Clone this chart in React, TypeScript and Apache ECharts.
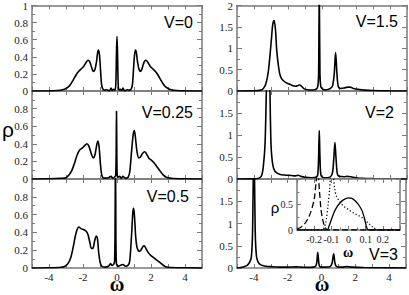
import React, { useEffect, useRef } from 'react';
import * as echarts from 'echarts';

// ---- data (omega, rho) ----
const v0: number[][] = [[-5,0],[-4,0.002],[-3.5,0.006],[-3.2,0.015],[-3.0,0.03],[-2.8,0.06],[-2.6,0.12],[-2.4,0.19],[-2.25,0.23],[-2.1,0.26],[-1.95,0.29],[-1.8,0.34],[-1.7,0.36],[-1.6,0.34],[-1.5,0.28],[-1.4,0.23],[-1.3,0.25],[-1.2,0.35],[-1.14,0.45],[-1.09,0.48],[-1.03,0.42],[-0.97,0.25],[-0.91,0.08],[-0.85,0.03],[-0.75,0.01],[-0.6,0.015],[-0.45,0.0],[-0.35,0.035],[-0.28,0.005],[-0.2,0.02],[-0.12,0.01],[-0.07,0.08],[-0.03,0.45],[0,0.64],[0.03,0.45],[0.07,0.08],[0.12,0.01],[0.2,0.02],[0.28,0.005],[0.35,0.035],[0.45,0],[0.6,0.015],[0.75,0.01],[0.85,0.03],[0.91,0.08],[0.97,0.25],[1.03,0.42],[1.09,0.48],[1.14,0.45],[1.2,0.35],[1.3,0.25],[1.4,0.23],[1.5,0.28],[1.6,0.34],[1.7,0.36],[1.8,0.34],[1.95,0.29],[2.1,0.26],[2.25,0.23],[2.4,0.19],[2.6,0.12],[2.8,0.06],[3.0,0.03],[3.2,0.015],[3.5,0.006],[4,0.002],[5,0]];

const v025: number[][] = [[-5,0],[-4,0.002],[-3.3,0.008],[-3.0,0.015],[-2.8,0.05],[-2.65,0.1],[-2.5,0.18],[-2.35,0.27],[-2.2,0.33],[-2.05,0.35],[-1.9,0.38],[-1.77,0.40],[-1.65,0.37],[-1.5,0.28],[-1.4,0.24],[-1.3,0.27],[-1.2,0.38],[-1.12,0.43],[-1.05,0.36],[-0.98,0.18],[-0.92,0.07],[-0.85,0.02],[-0.7,0.01],[-0.5,0.015],[-0.35,0.03],[-0.25,0.01],[-0.15,0.02],[-0.08,0.04],[-0.05,0.3],[-0.03,0.77],[-0.01,0.3],[0.01,0.05],[0.05,0.02],[0.15,0.03],[0.25,0.01],[0.35,0.03],[0.5,0.01],[0.65,0.02],[0.75,0.08],[0.85,0.3],[0.95,0.5],[1.02,0.55],[1.08,0.48],[1.17,0.32],[1.28,0.24],[1.38,0.25],[1.5,0.29],[1.63,0.31],[1.75,0.28],[1.9,0.23],[2.05,0.21],[2.2,0.18],[2.35,0.14],[2.5,0.1],[2.7,0.05],[2.9,0.02],[3.2,0.008],[4,0.002],[5,0]];

const v05: number[][] = [[-5,0],[-4,0.002],[-3.3,0.008],[-3.05,0.02],[-2.85,0.06],[-2.7,0.13],[-2.55,0.26],[-2.45,0.36],[-2.35,0.43],[-2.25,0.46],[-2.1,0.44],[-1.95,0.43],[-1.8,0.41],[-1.7,0.37],[-1.6,0.29],[-1.5,0.22],[-1.42,0.22],[-1.32,0.30],[-1.22,0.36],[-1.15,0.33],[-1.08,0.18],[-1.0,0.07],[-0.9,0.02],[-0.7,0.01],[-0.5,0.02],[-0.38,0.05],[-0.3,0.03],[-0.2,0.04],[-0.14,0.08],[-0.11,0.6],[-0.09,1.3],[-0.07,0.6],[-0.04,0.06],[0.05,0.02],[0.2,0.03],[0.35,0.04],[0.5,0.02],[0.65,0.03],[0.75,0.08],[0.85,0.35],[0.93,0.62],[0.98,0.67],[1.03,0.58],[1.1,0.35],[1.18,0.23],[1.3,0.19],[1.4,0.2],[1.52,0.24],[1.6,0.25],[1.7,0.22],[1.85,0.17],[2.0,0.14],[2.2,0.11],[2.4,0.08],[2.6,0.05],[2.8,0.02],[3.0,0.008],[4,0.002],[5,0]];

const v15: number[][] = [[-5,0],[-4,0.003],[-3.6,0.02],[-3.45,0.06],[-3.3,0.17],[-3.15,0.48],[-3.0,1.1],[-2.9,1.55],[-2.82,1.65],[-2.74,1.45],[-2.66,0.94],[-2.55,0.55],[-2.45,0.35],[-2.3,0.25],[-2.1,0.19],[-1.9,0.16],[-1.7,0.12],[-1.55,0.11],[-1.4,0.13],[-1.3,0.14],[-1.2,0.11],[-1.05,0.05],[-0.85,0.03],[-0.55,0.025],[-0.35,0.04],[-0.25,0.1],[-0.2,0.4],[-0.16,2.4],[-0.12,0.4],[-0.07,0.1],[0,0.06],[0.1,0.03],[0.3,0.03],[0.5,0.06],[0.62,0.12],[0.72,0.4],[0.8,0.9],[0.88,0.4],[0.96,0.1],[1.1,0.06],[1.3,0.07],[1.5,0.09],[1.65,0.09],[1.85,0.06],[2.1,0.04],[2.5,0.02],[3,0.01],[4,0.003],[5,0]];

const v2: number[][] = [[-5,0],[-4,0.003],[-3.7,0.02],[-3.55,0.08],[-3.45,0.29],[-3.35,0.8],[-3.25,2.3],[-3.16,3.0],[-3.08,2.3],[-3.0,0.8],[-2.9,0.33],[-2.76,0.17],[-2.5,0.11],[-2.2,0.09],[-1.8,0.08],[-1.55,0.07],[-1.4,0.085],[-1.25,0.06],[-1.0,0.04],[-0.6,0.03],[-0.35,0.04],[-0.25,0.1],[-0.2,0.5],[-0.16,1.1],[-0.12,0.5],[-0.06,0.08],[0.1,0.03],[0.3,0.03],[0.5,0.05],[0.62,0.15],[0.7,0.5],[0.76,0.83],[0.82,0.5],[0.9,0.12],[1.0,0.06],[1.3,0.05],[1.5,0.06],[1.7,0.05],[2.0,0.03],[2.4,0.015],[3,0.008],[4,0.002],[5,0]];

const v3: number[][] = [[-5,0],[-4.8,0.01],[-4.6,0.03],[-4.4,0.06],[-4.25,0.13],[-4.15,0.25],[-4.08,0.8],[-4.0,3.0],[-3.92,0.8],[-3.85,0.27],[-3.75,0.13],[-3.6,0.07],[-3.3,0.04],[-3.0,0.03],[-2.5,0.02],[-2.0,0.02],[-1.5,0.025],[-1.2,0.02],[-0.8,0.015],[-0.5,0.02],[-0.35,0.04],[-0.28,0.12],[-0.22,0.35],[-0.16,0.12],[-0.1,0.03],[0.2,0.02],[0.5,0.03],[0.62,0.1],[0.72,0.32],[0.8,0.1],[0.9,0.03],[1.2,0.02],[1.5,0.03],[1.8,0.02],[2.5,0.01],[3.5,0.005],[5,0]];

const insetDashed: number[][] = [[-0.3,0.02],[-0.28,0.05],[-0.26,0.1],[-0.24,0.2],[-0.22,0.35],[-0.2,0.6],[-0.19,0.9],[-0.18,1.2],[-0.17,0.8],[-0.16,0.4],[-0.15,0.2],[-0.14,0.08],[-0.13,0.02],[-0.12,0],[0.3,0]];
const insetDotted: number[][] = [[-0.3,0],[-0.15,0],[-0.14,0.05],[-0.13,0.2],[-0.12,0.45],[-0.11,0.8],[-0.1,1.2],[-0.09,1.1],[-0.08,0.8],[-0.07,0.66],[-0.05,0.55],[-0.03,0.47],[0,0.4],[0.03,0.33],[0.06,0.28],[0.08,0.24],[0.1,0.18],[0.12,0.12],[0.14,0.06],[0.15,0.03],[0.17,0.01],[0.3,0]];
const insetSolid: number[][] = [[-0.3,0],[-0.125,0],[-0.115,0.06],[-0.1,0.2],[-0.085,0.34],[-0.07,0.44],[-0.05,0.53],[-0.03,0.59],[0,0.63],[0.02,0.62],[0.04,0.57],[0.06,0.49],[0.08,0.37],[0.095,0.2],[0.105,0.06],[0.115,0],[0.3,0]];

const panelLabels = ['V=0', 'V=0.25', 'V=0.5', 'V=1.5', 'V=2', 'V=3'];
const panelData = [v0, v025, v05, v15, v2, v3];
const panelYMax = [1, 1, 1, 2, 2, 2];
const panelYStep = [0.2, 0.2, 0.2, 0.5, 0.5, 0.5];

const AX = '#7a7a7a';
const SERIF = 'Liberation Serif';
const SANS = 'Liberation Sans';

export default function App() {
  const ref = useRef<HTMLDivElement>(null);
  useEffect(() => {
    if (!ref.current) return;
    const chart = echarts.init(ref.current, undefined, { renderer: 'svg' });

    const grids: any[] = [
      { left: 32, top: 4, width: 170, height: 87 },
      { left: 32, top: 91, width: 170, height: 88 },
      { left: 32, top: 179, width: 170, height: 89 },
      { left: 237, top: 4, width: 170, height: 87 },
      { left: 237, top: 91, width: 170, height: 88 },
      { left: 237, top: 179, width: 170, height: 89 },
      { left: 297, top: 179, width: 103, height: 51, show: true, backgroundColor: '#fff', borderWidth: 0, z: 5 },
    ];

    const axisLine = { show: true, onZero: false, lineStyle: { color: AX, width: 1.5 } };
    const tickStyle = { color: AX, width: 1 };
    const xAxes: any[] = [];
    const yAxes: any[] = [];
    for (let i = 0; i < 6; i++) {
      const bottomRow = i === 2 || i === 5;
      const xBase = {
        type: 'value', gridIndex: i, min: -5, max: 5, interval: 1,
        axisLine, splitLine: { show: false },
        axisTick: { show: true, inside: true, length: 4, lineStyle: tickStyle },
      };
      xAxes.push({
        ...xBase, position: 'bottom',
        axisLabel: {
          show: bottomRow, margin: 3, fontFamily: SERIF, fontSize: 11, color: '#222',
          formatter: (v: number) => (Math.round(v) % 2 === 0 ? String(Math.round(v)) : ''),
        },
      });
      xAxes.push({ ...xBase, position: 'top', axisLabel: { show: false } });
      const yBase = {
        type: 'value', gridIndex: i, min: 0, max: panelYMax[i], interval: panelYStep[i],
        axisLine, splitLine: { show: false },
        axisTick: { show: true, inside: true, length: 5, lineStyle: tickStyle },
        minorTick: { show: true, splitNumber: 2, length: 3, lineStyle: tickStyle },
      };
      yAxes.push({
        ...yBase, position: 'left',
        axisLabel: {
          show: true, margin: 4, fontFamily: SERIF, fontSize: 11, color: '#222',
          showMaxLabel: i === 0 || i === 3,
        },
      });
      yAxes.push({ ...yBase, position: 'right', axisLabel: { show: false } });
    }
    // inset axes
    const ixBase = {
      type: 'value', gridIndex: 6, min: -0.3, max: 0.3, interval: 0.1, z: 6,
      axisLine, splitLine: { show: false },
      axisTick: { show: true, inside: true, length: 4, lineStyle: tickStyle },
      minorTick: { show: true, splitNumber: 2, length: 2.5, lineStyle: tickStyle },
    };
    xAxes.push({
      ...ixBase, position: 'bottom',
      axisLabel: {
        show: true, margin: 4, fontFamily: SERIF, fontSize: 10, color: '#222',
        formatter: (v: number) => (Math.abs(v) > 0.25 ? '' : String(Math.round(v * 10) / 10)),
      },
    });
    xAxes.push({ ...ixBase, position: 'top', axisLabel: { show: false } });
    const iyBase = {
      type: 'value', gridIndex: 6, min: 0, max: 1, interval: 0.5, z: 6,
      axisLine, splitLine: { show: false },
      axisTick: { show: true, inside: true, length: 4, lineStyle: tickStyle },
      minorTick: { show: true, splitNumber: 2, length: 2.5, lineStyle: tickStyle },
    };
    yAxes.push({
      ...iyBase, position: 'left',
      axisLabel: { show: true, margin: 4, fontFamily: SERIF, fontSize: 10, color: '#222', showMaxLabel: false },
    });
    yAxes.push({ ...iyBase, position: 'right', axisLabel: { show: false } });

    const series: any[] = panelData.map((d, i) => ({
      type: 'line', xAxisIndex: 2 * i, yAxisIndex: 2 * i, data: d,
      showSymbol: false, symbol: 'none', smooth: 0.3, clip: true,
      lineStyle: { color: '#000', width: 1.6 },
    }));
    const insetLine = (d: number[][], type: any) => ({
      type: 'line', xAxisIndex: 12, yAxisIndex: 12, data: d, z: 7,
      showSymbol: false, symbol: 'none', smooth: 0.3, clip: true,
      lineStyle: { color: '#000', width: 1.3, type },
    });
    series.push(insetLine(insetDashed, [6, 3]));
    series.push(insetLine(insetDotted, [1.2, 2.2]));
    series.push(insetLine(insetSolid, 'solid'));

    const vPos = [
      [193, 22], [193, 112], [189, 196], [398, 21], [394, 112], [398, 254],
    ];
    const graphic: any[] = panelLabels.map((t, i) => ({
      type: 'text', x: vPos[i][0], y: vPos[i][1], z: 20,
      style: { text: t, fontFamily: SANS, fontSize: 16, fill: '#000', align: 'right', verticalAlign: 'middle' },
    }));
    graphic.push(
      { type: 'text', x: 8, y: 129, z: 20, style: { text: 'ρ', fontFamily: SANS, fontSize: 21, fill: '#000', align: 'center', verticalAlign: 'middle' } },
      { type: 'text', x: 117, y: 284, z: 20, style: { text: 'ω', fontFamily: SERIF, fontWeight: 'bold', fontSize: 20, fill: '#000', align: 'center', verticalAlign: 'middle' } },
      { type: 'text', x: 322, y: 284, z: 20, style: { text: 'ω', fontFamily: SERIF, fontWeight: 'bold', fontSize: 20, fill: '#000', align: 'center', verticalAlign: 'middle' } },
      { type: 'text', x: 275, y: 207, z: 20, style: { text: 'ρ', fontFamily: SANS, fontSize: 15, fill: '#000', align: 'center', verticalAlign: 'middle' } },
      { type: 'text', x: 348, y: 252, z: 20, style: { text: 'ω', fontFamily: SERIF, fontWeight: 'bold', fontSize: 14, fill: '#000', align: 'center', verticalAlign: 'middle' } },
    );

    chart.setOption({
      animation: false,
      backgroundColor: '#fff',
      grid: grids,
      xAxis: xAxes,
      yAxis: yAxes,
      series,
      graphic,
    });
    return () => chart.dispose();
  }, []);
  return <div ref={ref} style={{ position: 'absolute', left: 0, top: 0, width: 409, height: 295 }} />;
}
